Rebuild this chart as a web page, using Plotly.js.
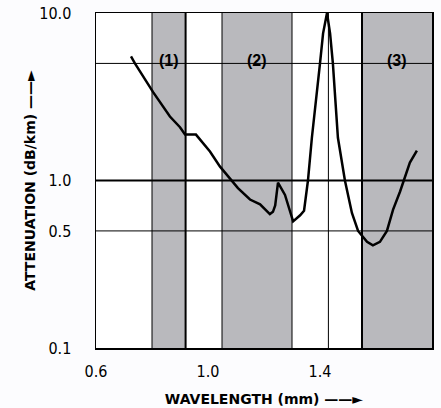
<!DOCTYPE html>
<html>
<head>
<meta charset="utf-8">
<script src="https://cdn.plot.ly/plotly-3.0.1.min.js"></script>
<style>html,body{margin:0;padding:0;background:#fcfcfe;}#chart{width:441px;height:408px;}</style>
</head>
<body>
<div id="chart"></div>
<script>
// Attenuation curve (wavelength, dB/km)
const wavelength = [0.725, 0.739, 0.804, 0.864, 0.900, 0.918, 0.957, 1.007, 1.043, 1.079, 1.107, 1.150, 1.186, 1.221, 1.232, 1.240, 1.246, 1.250, 1.275, 1.293, 1.304, 1.329, 1.343, 1.357, 1.371, 1.400, 1.411, 1.425, 1.436, 1.446, 1.464, 1.489, 1.514, 1.536, 1.568, 1.589, 1.614, 1.639, 1.661, 1.686, 1.704, 1.721, 1.746];
const attenuation = [5.5, 5.0, 3.37, 2.41, 2.08, 1.88, 1.88, 1.49, 1.21, 1.03, 0.90, 0.77, 0.72, 0.63, 0.65, 0.71, 0.86, 0.97, 0.82, 0.64, 0.57, 0.62, 0.66, 1.0, 1.8, 5.0, 7.56, 10.0, 7.56, 5.0, 1.8, 1.0, 0.64, 0.50, 0.43, 0.41, 0.43, 0.50, 0.67, 0.86, 1.05, 1.28, 1.51];

// Shaded windows
const bandLabels = ['(1)', '(2)', '(3)'];
const bandStarts = [0.80, 1.05, 1.55];
const bandEnds = [0.92, 1.30, 1.80];

// Reference lines
const vLinesThin = [0.80, 1.05, 1.30, 1.43];
const vLinesThick = [0.92, 1.55];
const hLinesThin = [5, 0.5];
const hLinesThick = [1.0];

// Tick labels
const xTickVals = [0.6, 1.0, 1.4, 1.8];
const xTickText = ['0.6', '1.0', '1.4', '1.8'];
const yTickVals = [0.1, 0.5, 1.0, 10.0];
const yTickText = ['0.1', '0.5', '1.0', '10.0'];

const shapes = [];
bandStarts.forEach((s, i) => {
  shapes.push({type: 'rect', xref: 'x', yref: 'paper', x0: s, x1: bandEnds[i], y0: 0, y1: 1,
    fillcolor: '#b9b9bd', line: {width: 0}, layer: 'below'});
});
vLinesThin.forEach(v => shapes.push({type: 'line', xref: 'x', yref: 'paper', x0: v, x1: v, y0: 0, y1: 1, line: {color: '#000', width: 1}, layer: 'below'}));
vLinesThick.forEach(v => shapes.push({type: 'line', xref: 'x', yref: 'paper', x0: v, x1: v, y0: 0, y1: 1, line: {color: '#000', width: 2}, layer: 'below'}));
hLinesThin.forEach(v => shapes.push({type: 'line', xref: 'paper', yref: 'y', x0: 0, x1: 1, y0: v, y1: v, line: {color: '#000', width: 1}, layer: 'below'}));
hLinesThick.forEach(v => shapes.push({type: 'line', xref: 'paper', yref: 'y', x0: 0, x1: 1, y0: v, y1: v, line: {color: '#000', width: 2}, layer: 'below'}));

const annotations = bandLabels.map((t, i) => ({
  text: '<b>' + t + '</b>', xref: 'x', yref: 'paper',
  x: (bandStarts[i] + bandEnds[i]) / 2, y: 0.89, showarrow: false,
  font: {family: 'Liberation Sans Narrow, Liberation Sans, Arial', size: 16, color: '#000'}
}));

const tickFont = {family: 'Liberation Sans Narrow, DejaVu Sans Condensed, Liberation Sans', size: 16, color: '#000'};
const titleFont = {family: 'DejaVu Sans, Liberation Sans, Arial', size: 14, color: '#000', weight: 'bold'};

const layout = {
  width: 441, height: 408,
  margin: {l: 96, r: 9, t: 13, b: 60},
  paper_bgcolor: '#fcfcfe', plot_bgcolor: '#ffffff',
  showlegend: false,
  xaxis: {
    type: 'linear', range: [0.6, 1.8], tickvals: xTickVals, ticktext: xTickText,
    showgrid: false, zeroline: false, showline: true, mirror: true, linecolor: '#000', linewidth: 1.5,
    ticks: 'outside', ticklen: 8, tickcolor: 'rgba(0,0,0,0)', tickfont: tickFont,
    title: {text: '<b>WAVELENGTH (mm) ——►</b>', font: titleFont, standoff: 14}, automargin: false
  },
  yaxis: {
    type: 'log', range: [-1, 1], tickvals: yTickVals, ticktext: yTickText,
    showgrid: false, zeroline: false, showline: true, mirror: true, linecolor: '#000', linewidth: 1.5,
    ticks: 'outside', ticklen: 20, tickcolor: 'rgba(0,0,0,0)', tickfont: tickFont,
    title: {text: '<b>ATTENUATION (dB/km) ——►</b>', font: titleFont, standoff: 0}, automargin: false
  },
  shapes: shapes,
  annotations: annotations
};

const trace = {
  type: 'scatter', mode: 'lines', x: wavelength, y: attenuation,
  line: {color: '#000', width: 2.5, shape: 'linear'}, hoverinfo: 'x+y'
};

Plotly.newPlot('chart', [trace], layout, {staticPlot: true, displayModeBar: false});
</script>
</body>
</html>
